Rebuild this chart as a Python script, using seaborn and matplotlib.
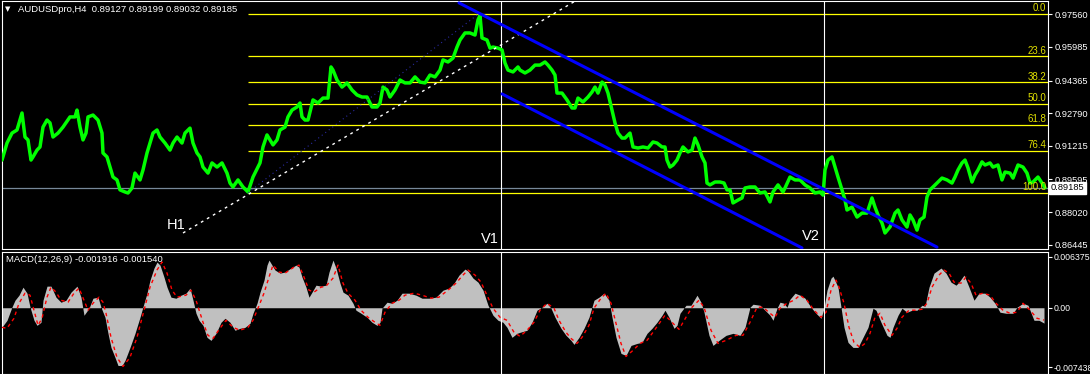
import numpy as np
import pandas as pd
import matplotlib
matplotlib.use("Agg")
import matplotlib.pyplot as plt
import matplotlib.transforms as mtransforms
import seaborn as sns

# ---------------- data ----------------
symbol_title = "AUDUSDpro,H4  0.89127 0.89199 0.89032 0.89185"
macd_title = "MACD(12,26,9) -0.001916 -0.001540"

price_bars = [2, 7, 12, 17, 22, 25, 28, 31, 33, 37, 40, 43, 47, 50, 53, 58, 63, 70, 75, 77,
              80, 83, 86, 88, 93, 98, 102, 103, 107, 110, 113, 117, 120, 125, 128, 132, 135, 140, 143, 147,
              150, 153, 157, 160, 165, 170, 173, 177, 182, 185, 190, 193, 197, 200, 203, 208, 212, 217, 222, 227,
              230, 233, 238, 243, 248, 253, 258, 260, 263, 267, 270, 273, 277, 280, 285, 288, 292, 297, 300, 302,
              305, 308, 313, 318, 323, 328, 331, 333, 337, 342, 347, 352, 357, 362, 367, 372, 377, 380, 383, 387,
              390, 395, 400, 405, 410, 415, 420, 425, 430, 435, 440, 443, 448, 453, 457, 460, 465, 470, 475, 478,
              480, 482, 487, 490, 493, 498, 502, 505, 508, 513, 518, 520, 525, 530, 535, 540, 545, 548, 552, 555,
              557, 562, 567, 572, 575, 578, 583, 588, 592, 595, 598, 602, 605, 608, 612, 615, 618, 622, 625, 630,
              633, 638, 643, 648, 653, 657, 662, 665, 667, 670, 673, 677, 680, 683, 688, 692, 695, 698, 702, 705,
              707, 710, 715, 720, 724, 727, 730, 733, 738, 742, 745, 750, 755, 760, 765, 770, 773, 778, 783, 785,
              790, 795, 800, 805, 810, 815, 820, 823, 825, 828, 832, 835, 838, 842, 845, 847, 852, 857, 862, 867,
              872, 875, 878, 882, 885, 890, 895, 898, 902, 907, 910, 913, 917, 920, 924, 927, 930, 933, 937, 942,
              947, 952, 955, 958, 962, 965, 968, 972, 975, 978, 982, 985, 990, 993, 998, 1002, 1005, 1010, 1013, 1018,
              1023, 1027, 1030, 1033, 1038, 1042, 1045]
price_close = [0.9053, 0.9135, 0.9183, 0.9198, 0.9280, 0.9164, 0.9150, 0.9053, 0.9068, 0.9101, 0.9116, 0.9212, 0.9246, 0.9232, 0.9164, 0.9183, 0.9212, 0.9261, 0.9261, 0.9294,
               0.9212, 0.9150, 0.9183, 0.9261, 0.9270, 0.9246, 0.9183, 0.9087, 0.9068, 0.9019, 0.8971, 0.8957, 0.8909, 0.8899, 0.8894, 0.8918, 0.8990, 0.8957, 0.9005, 0.9087,
               0.9135, 0.9183, 0.9198, 0.9164, 0.9135, 0.9101, 0.9135, 0.9164, 0.9135, 0.9183, 0.9207, 0.9135, 0.9087, 0.9068, 0.9019, 0.8990, 0.9039, 0.9019, 0.9039, 0.8990,
               0.8942, 0.8923, 0.8957, 0.8923, 0.8899, 0.8971, 0.9019, 0.9039, 0.9116, 0.9174, 0.9150, 0.9126, 0.9150, 0.9198, 0.9212, 0.9261, 0.9294, 0.9309, 0.9328, 0.9261,
               0.9246, 0.9246, 0.9343, 0.9328, 0.9352, 0.9352, 0.9502, 0.9487, 0.9439, 0.9405, 0.9425, 0.9391, 0.9367, 0.9357, 0.9357, 0.9309, 0.9309, 0.9328, 0.9405, 0.9391,
               0.9357, 0.9391, 0.9439, 0.9425, 0.9425, 0.9454, 0.9429, 0.9425, 0.9463, 0.9454, 0.9487, 0.9536, 0.9526, 0.9545, 0.9598, 0.9632, 0.9666, 0.9666, 0.9656, 0.9729,
               0.9750, 0.9642, 0.9632, 0.9593, 0.9598, 0.9593, 0.9584, 0.9521, 0.9487, 0.9478, 0.9502, 0.9487, 0.9473, 0.9487, 0.9511, 0.9511, 0.9526, 0.9511, 0.9487, 0.9463,
               0.9376, 0.9376, 0.9343, 0.9304, 0.9304, 0.9352, 0.9333, 0.9357, 0.9381, 0.9405, 0.9376, 0.9429, 0.9415, 0.9376, 0.9294, 0.9232, 0.9183, 0.9159, 0.9159, 0.9183,
               0.9116, 0.9111, 0.9116, 0.9111, 0.9140, 0.9135, 0.9116, 0.9116, 0.9053, 0.9019, 0.9029, 0.9053, 0.9087, 0.9116, 0.9092, 0.9101, 0.9159, 0.9126, 0.9068, 0.9039,
               0.8942, 0.8933, 0.8947, 0.8947, 0.8942, 0.8909, 0.8909, 0.8846, 0.8860, 0.8870, 0.8918, 0.8923, 0.8923, 0.8894, 0.8899, 0.8851, 0.8899, 0.8933, 0.8899, 0.8918,
               0.8971, 0.8957, 0.8957, 0.8933, 0.8918, 0.8894, 0.8899, 0.8884, 0.9005, 0.9053, 0.9068, 0.9019, 0.8971, 0.8909, 0.8860, 0.8812, 0.8826, 0.8778, 0.8797, 0.8797,
               0.8870, 0.8826, 0.8788, 0.8749, 0.8701, 0.8730, 0.8797, 0.8812, 0.8764, 0.8730, 0.8788, 0.8764, 0.8715, 0.8764, 0.8778, 0.8875, 0.8909, 0.8923, 0.8942, 0.8966,
               0.8957, 0.8942, 0.8971, 0.9005, 0.9039, 0.9053, 0.9015, 0.8947, 0.8981, 0.9005, 0.9044, 0.9029, 0.9039, 0.9019, 0.9029, 0.8957, 0.8995, 0.8990, 0.8966, 0.9029,
               0.9019, 0.8990, 0.8942, 0.8947, 0.8971, 0.8942, 0.8919]

hist_bars = [2, 7, 12, 15, 19, 23, 27, 30, 34, 37, 41, 43, 47, 51, 56, 61, 66, 71, 77, 81,
             84, 89, 93, 98, 101, 105, 108, 111, 115, 118, 122, 125, 130, 135, 140, 144, 147, 150, 154, 157,
             160, 164, 167, 171, 176, 181, 186, 190, 193, 196, 199, 203, 207, 211, 216, 221, 225, 230, 235, 240,
             245, 250, 253, 257, 260, 264, 267, 269, 272, 275, 280, 285, 291, 296, 299, 302, 306, 309, 312, 316,
             321, 326, 329, 333, 336, 340, 343, 348, 353, 356, 361, 367, 372, 377, 380, 382, 387, 392, 397, 402,
             409, 416, 422, 429, 436, 443, 449, 454, 459, 465, 468, 473, 478, 483, 488, 493, 498, 503, 507, 512,
             517, 520, 527, 532, 537, 542, 547, 551, 555, 561, 566, 571, 574, 579, 584, 589, 594, 599, 604, 609,
             612, 616, 621, 626, 631, 637, 642, 647, 652, 657, 662, 665, 669, 674, 677, 680, 686, 691, 694, 697,
             701, 704, 709, 713, 719, 726, 733, 740, 745, 750, 753, 760, 765, 770, 773, 777, 780, 784, 787, 790,
             795, 800, 805, 811, 816, 821, 824, 827, 831, 833, 838, 841, 844, 848, 853, 858, 863, 868, 873, 876,
             881, 887, 890, 893, 898, 902, 907, 912, 917, 922, 925, 929, 934, 941, 946, 951, 956, 959, 964, 969,
             974, 979, 985, 990, 995, 1000, 1006, 1013, 1017, 1023, 1028, 1034, 1039, 1044]
macd_hist = [-2.41, -1.57, 0.10, 0.94, 1.57, 2.57, 1.82, 0.10, -1.57, -2.20, -1.82, 0.94, 2.70, 2.70, 1.32, 0.69, 0.94, 1.95, 2.70, 1.32,
             -0.94, -0.06, 1.19, 1.32, 0.06, -1.19, -3.20, -4.96, -6.21, -7.22, -7.22, -6.59, -4.96, -3.20, -1.19, 0.56, 1.82, 3.45, 4.96, 5.71,
             5.33, 3.83, 2.57, 1.32, 1.19, 1.57, 1.82, 2.45, 0.94, -0.69, -1.57, -2.20, -3.70, -4.08, -3.20, -1.82, -1.32, -1.82, -2.82, -2.57,
             -2.45, -1.95, -0.69, 0.56, 1.95, 3.45, 5.33, 5.96, 5.33, 4.71, 4.33, 4.46, 4.96, 5.33, 5.08, 3.83, 2.57, 1.32, 1.95, 2.82,
             2.70, 2.82, 4.46, 5.96, 4.96, 3.07, 1.95, 1.57, 0.56, -0.31, -0.69, -1.19, -1.82, -2.20, -1.82, -0.06, 0.69, 0.56, 0.94, 1.82,
             1.82, 1.57, 1.19, 1.19, 1.32, 2.20, 2.45, 3.07, 4.08, 4.83, 4.58, 3.70, 3.20, 2.20, 0.31, -0.94, -1.57, -1.82, -2.45, -3.70,
             -3.20, -3.07, -2.82, -1.82, -0.31, 0.06, 0.56, -0.06, -1.19, -2.57, -3.45, -4.08, -4.58, -3.70, -2.57, -1.19, 0.94, 1.32, 1.82, 0.94,
             -1.19, -3.70, -5.71, -5.96, -4.71, -4.46, -4.33, -3.20, -2.57, -1.82, -0.94, -0.31, -1.19, -2.57, -2.20, -0.69, 0.31, 0.31, 0.94, 1.57,
             0.69, -0.56, -3.45, -4.71, -4.08, -3.45, -3.20, -3.45, -2.45, 0.06, 0.44, 0.31, -0.31, -0.94, -1.57, -0.06, 0.69, 0.56, 0.06, 1.07,
             1.82, 1.57, 1.19, 0.06, -0.69, -1.32, -0.06, 2.20, 3.70, 3.95, 2.57, 0.06, -2.45, -4.33, -4.96, -4.96, -3.70, -2.45, -0.06, -0.31,
             -1.82, -3.45, -3.70, -2.45, -0.94, -0.06, -0.56, -0.31, -0.31, 0.31, 0.19, 2.57, 4.33, 4.96, 4.33, 3.20, 2.82, 3.20, 4.08, 2.57,
             0.94, 1.82, 1.82, 1.32, 0.56, -0.56, -0.69, -0.69, 0.06, 0.56, 0.31, -1.57, -1.57, -1.92]

signal_bars = [2, 7, 14, 19, 25, 30, 34, 38, 42, 47, 51, 56, 61, 68, 74, 79, 84, 88, 93, 99,
               103, 106, 111, 117, 123, 130, 137, 144, 150, 157, 162, 167, 172, 177, 186, 191, 196, 203, 208, 213,
               220, 226, 233, 240, 248, 253, 258, 264, 269, 273, 279, 285, 294, 299, 304, 309, 314, 321, 326, 333,
               338, 343, 348, 355, 361, 368, 375, 380, 385, 392, 399, 405, 414, 422, 431, 439, 448, 456, 463, 468,
               475, 481, 486, 493, 500, 507, 514, 520, 527, 534, 540, 547, 554, 559, 566, 571, 577, 582, 589, 594,
               601, 606, 611, 616, 621, 626, 633, 640, 647, 653, 660, 665, 672, 679, 686, 692, 699, 704, 711, 718,
               726, 736, 743, 750, 757, 763, 770, 775, 780, 787, 794, 800, 807, 814, 821, 826, 831, 836, 839, 844,
               849, 854, 860, 865, 870, 875, 880, 885, 892, 897, 902, 909, 915, 922, 927, 932, 939, 944, 949, 954,
               961, 966, 971, 976, 983, 990, 996, 1003, 1010, 1017, 1023, 1030, 1037, 1044]
macd_signal = [-2.45, -2.57, -1.32, 0.56, 1.82, 1.57, -0.31, -2.20, -1.32, 1.32, 2.57, 1.95, 0.94, 0.69, 1.82, 2.45, 0.94, -0.31, 0.56, 1.32,
               0.69, -0.69, -3.70, -6.21, -7.34, -6.21, -3.70, -0.31, 2.57, 4.71, 5.71, 4.33, 2.20, 1.32, 1.57, 2.20, 0.94, -1.82, -3.45, -3.83,
               -2.57, -1.57, -2.45, -2.82, -2.45, -1.57, -0.06, 1.82, 3.83, 5.33, 4.46, 4.33, 5.08, 5.33, 3.83, 2.20, 1.95, 2.57, 2.70, 3.70,
               5.33, 3.07, 1.82, 0.94, -0.31, -1.19, -1.82, -2.20, -0.56, 0.56, 0.94, 1.57, 1.82, 1.57, 1.19, 1.32, 2.20, 3.07, 4.08, 4.71,
               4.08, 3.20, 1.82, -0.06, -1.19, -1.57, -3.07, -3.58, -2.82, -1.82, -0.31, 0.56, -0.06, -1.57, -3.07, -3.83, -4.46, -3.70, -2.20, -0.06,
               1.19, 1.82, 0.56, -1.95, -4.46, -6.09, -5.33, -4.46, -4.08, -3.07, -1.82, -0.94, -1.82, -2.70, -1.19, 0.06, 0.94, 0.06, -2.82, -4.46,
               -4.08, -3.45, -3.45, -1.82, 0.06, 0.06, -0.69, -1.19, -0.06, 0.56, 0.94, 1.57, 0.94, -0.31, -1.19, -0.56, 2.20, 3.45, 2.57, 0.56,
               -2.45, -4.33, -4.96, -4.46, -3.20, -1.19, -0.69, -2.20, -3.45, -2.57, -1.19, -0.31, -0.31, -0.19, 0.56, 2.57, 4.08, 4.71, 4.33, 3.20,
               3.07, 3.83, 3.07, 1.57, 1.82, 1.57, 0.56, -0.31, -0.69, -0.56, 0.56, -0.31, -1.32, -1.54]

fib_ratios = [0.0, 23.6, 38.2, 50.0, 61.8, 76.4, 100.0]
fib_high_bar, fib_high = 478, 0.97560
fib_low_bar, fib_low = 248, 0.88954
bid_price = 0.89185

trend_h1 = ([183, 577], [0.8701, 0.9825])
channel_upper = ([459, 937], [0.9811, 0.8633])
channel_lower = ([502, 802], [0.9372, 0.8629])
vline_bars = [501, 824]

price_ticks = [0.97560, 0.95985, 0.94365, 0.92790, 0.91215, 0.89595, 0.88020, 0.86445]
macd_ticks = [0.006375, 0.0, -0.007438]
macd_tick_labels = ["0.006375", "0.00", "-0.007438"]

# ---------------- figure ----------------
sns.set_theme(style="dark")
plt.rcParams['font.family'] = ['Liberation Sans', 'DejaVu Sans']

W, H = 1090, 374
fig = plt.figure(figsize=(W / 100, H / 100), dpi=100, facecolor='black')


def fx(px):
    return px / W


def fy(py):
    return 1 - py / H


ax = fig.add_axes([fx(2), fy(249), fx(1048) - fx(2), fy(1) - fy(249)])
ax2 = fig.add_axes([fx(2), fy(373.5), fx(1048) - fx(2), fy(251.5) - fy(373.5)])

for a in (ax, ax2):
    a.set_facecolor('black')
    a.grid(False)
    for s in a.spines.values():
        s.set_color('white')
        s.set_linewidth(0.8)
    a.set_xlim(2, 1048)
    a.yaxis.tick_right()
    a.tick_params(axis='y', colors='white', length=3, width=0.8, pad=1.5,
                  labelsize=6.7, right=True, left=False)
ax2.tick_params(axis='y', labelsize=6.3, pad=1.2)

ax.set_ylim(0.86238, 0.98202)
ax2.set_ylim(-0.00822, 0.00703)

# Fibonacci levels
rng = fib_high - fib_low
for r in fib_ratios:
    lv = fib_high - rng * r / 100.0
    ax.hlines(lv, fib_low_bar, 1048, color='#ffff00', lw=0.9, zorder=2)
    ax.text(1046, lv + 0.0004, f"{r:.1f}", ha='right', va='bottom',
            color='#e0e000', fontsize=7, zorder=6)

# bid line
ax.axhline(bid_price, color='#778899', lw=0.9, zorder=2)

# vertical lines
for b in vline_bars:
    ax.axvline(b, color='white', lw=0.8, zorder=2)
    ax2.axvline(b, color='white', lw=0.8, zorder=4)

# price
dfp = pd.DataFrame({'bar': price_bars, 'close': price_close})
sns.lineplot(data=dfp, x='bar', y='close', ax=ax, color='#00ff00', lw=2.5,
             estimator=None, sort=False, zorder=3)

# trend lines
ax.plot(trend_h1[0], trend_h1[1], color='white', lw=1.0, ls=(0, (2, 3)), zorder=4)
ax.plot([fib_low_bar, fib_high_bar], [fib_low, fib_high], color='#2a2aa0', lw=0.8,
        ls=(0, (1, 3)), zorder=4)
ax.plot(channel_upper[0], channel_upper[1], color='#0000ff', lw=2.2, zorder=5)
ax.plot(channel_lower[0], channel_lower[1], color='#0000ff', lw=2.2, zorder=5)

# labels on chart
ax.text(167, 0.8720, "H1", color='white', fontsize=10.5, va='baseline', ha='left')
ax.text(481, 0.8653, "V1", color='white', fontsize=10.5, va='baseline', ha='left')
ax.text(802, 0.8667, "V2", color='white', fontsize=10.5, va='baseline', ha='left')

ax.set_yticks(price_ticks)
ax.set_yticklabels([f"{t:.5f}" for t in price_ticks])

trans = mtransforms.blended_transform_factory(ax.transAxes, ax.transData)
ax.text(1.0025, bid_price, "0.89185", transform=trans, color='black', fontsize=6.7,
        va='center', ha='left', clip_on=False, zorder=10,
        bbox=dict(boxstyle='square,pad=0.15', fc='white', ec='white'))

# MACD
hx = np.array(hist_bars)
hv = np.array(macd_hist) / 1000.0
ax2.fill_between(hx, 0, hv, color='#c0c0c0', lw=0, zorder=2)
dfs = pd.DataFrame({'bar': signal_bars, 'signal': np.array(macd_signal) / 1000.0})
sns.lineplot(data=dfs, x='bar', y='signal', ax=ax2, color='#ff0000', lw=1.0,
             estimator=None, sort=False, zorder=3)
ax2.lines[-1].set_linestyle((0, (2.5, 2.5)))
ax2.set_yticks(macd_ticks)
ax2.set_yticklabels(macd_tick_labels)

for a in (ax, ax2):
    a.set_xticks([])
    a.set_xlabel('')
    a.set_ylabel('')

# titles
fig.text(fx(5), fy(9), "▼", color='white', fontsize=5, family='DejaVu Sans',
         va='center', ha='left')
fig.text(fx(18), fy(9), symbol_title, color='white', fontsize=6.8, va='center', ha='left')
fig.text(fx(6), fy(259.5), macd_title, color='white', fontsize=6.8, va='center', ha='left')

fig.savefig('out.png', dpi=100, facecolor='black')
